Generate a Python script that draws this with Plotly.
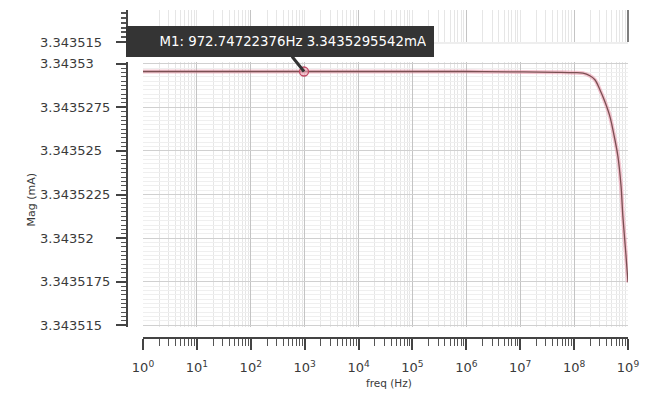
import plotly.graph_objects as go

# ---- data ----
freq = [1, 10, 100, 972.74722376, 1e4, 1e5, 1e6, 1e7, 5e7, 1e8, 1.46e8, 1.96e8,
        2.43e8, 3.01e8, 3.73e8, 4.62e8, 5.47e8, 6.5e8, 7.39e8, 8.04e8, 9.14e8, 1e9]
mag = [3.3435295542, 3.3435295542, 3.3435295542, 3.3435295542, 3.3435295542,
       3.3435295542, 3.3435295540, 3.3435295300, 3.3435295100, 3.3435294900,
       3.3435294600, 3.3435293100, 3.3435290800, 3.3435285100, 3.3435278200,
       3.3435269700, 3.3435259400, 3.3435246800, 3.3435230700, 3.3435212400,
       3.3435190700, 3.3435174600]
marker_f = [972.74722376]
marker_v = [3.3435295542]
marker_text = "M1: 972.74722376Hz 3.3435295542mA"

xtick_vals = [1, 10, 100, 1e3, 1e4, 1e5, 1e6, 1e7, 1e8, 1e9]
xtick_text = ["10<sup>%d</sup>" % i for i in range(10)]
ytick_vals = [3.34353, 3.3435275, 3.343525, 3.3435225, 3.34352, 3.3435175, 3.343515]
ytick_text = ["3.34353", "3.3435275", "3.343525", "3.3435225", "3.34352",
              "3.3435175", "3.343515"]
strip_label = ["3.343515"]
y_title = "Mag (mA)"
x_title = "freq (Hz)"

W, H = 653, 398
def px_x(p):
    return p / W
def px_y(p):
    return 1 - p / H

FONT = "DejaVu Sans"
TXT = "#3a3a3a"

fig = go.Figure()
# halo + line
fig.add_trace(go.Scatter(x=freq, y=mag, mode="lines", line_shape="spline",
                         line=dict(color="rgba(235,150,170,0.55)", width=4),
                         hoverinfo="skip", showlegend=False))
fig.add_trace(go.Scatter(x=freq, y=mag, mode="lines", line_shape="spline",
                         line=dict(color="#7a4f52", width=1.3),
                         showlegend=False))
fig.add_trace(go.Scatter(x=marker_f, y=marker_v, mode="markers",
                         marker=dict(symbol="circle", size=9,
                                     color="rgba(240,170,185,0.6)",
                                     line=dict(color="#c04a64", width=1.3)),
                         showlegend=False))

x_dom = [px_x(143), px_x(628)]
y_dom = [px_y(327), px_y(62)]

fig.update_layout(
    width=W, height=H,
    margin=dict(l=0, r=0, t=0, b=0, autoexpand=False),
    paper_bgcolor="white", plot_bgcolor="white",
    font=dict(family=FONT, color=TXT),
    xaxis=dict(type="log", domain=x_dom, range=[0, 9], automargin=False,
               anchor="free", position=px_y(338),
               tickvals=xtick_vals, ticktext=xtick_text,
               tickfont=dict(size=13, color=TXT), ticklabelstandoff=7,
               showline=True, linecolor="#444", linewidth=1.5,
               ticks="outside", ticklen=11, tickwidth=1.5, tickcolor="#444",
               showgrid=True, gridcolor="#c4c4c4", gridwidth=1,
               minor=dict(dtick="D1", ticks="outside", ticklen=7, tickwidth=1,
                          tickcolor="#555", showgrid=True, gridcolor="#e6e6e6"),
               zeroline=False),
    yaxis=dict(domain=y_dom, range=[3.3435149, 3.3435301], automargin=False,
               anchor="free", position=px_x(127),
               tickvals=ytick_vals, showticklabels=False,
               showline=True, linecolor="#444", linewidth=1.5,
               ticks="outside", ticklen=10, tickwidth=1.5, tickcolor="#444",
               showgrid=True, gridcolor="#d0d0d0", gridwidth=1,
               minor=dict(dtick=2.5e-7, tick0=3.343515, ticks="outside", ticklen=5,
                          tickwidth=1, tickcolor="#555", showgrid=True,
                          gridcolor="#efefef"),
               zeroline=False),
    # top strip
    xaxis2=dict(type="log", domain=x_dom, range=[0, 9], anchor="y2", automargin=False,
                matches="x", showticklabels=False, ticks="",
                showgrid=True, gridcolor="#c4c4c4",
                minor=dict(dtick="D1", showgrid=True, gridcolor="#e6e6e6"),
                showline=False, zeroline=False),
    yaxis2=dict(domain=[px_y(42), px_y(10)], range=[0, 1], automargin=False,
                anchor="free", position=px_x(127),
                tickvals=[0], showticklabels=False,
                showline=True, linecolor="#444", linewidth=1.5,
                ticks="outside", ticklen=10, tickwidth=1.5, tickcolor="#444",
                minor=dict(dtick=0.15, ticks="outside", ticklen=5, tickcolor="#555"),
                showgrid=False, zeroline=False),
)
# empty trace to bind strip axes
fig.add_trace(go.Scatter(x=[], y=[], xaxis="x2", yaxis="y2", showlegend=False))

# left-aligned y tick labels (as in the reference)
for v, t in zip(ytick_vals, ytick_text):
    fig.add_annotation(text=t, xref="paper", yref="y", x=px_x(38), y=v,
                       xanchor="left", yanchor="middle", showarrow=False,
                       font=dict(size=13, color=TXT, family=FONT))
for t in strip_label:
    fig.add_annotation(text=t, xref="paper", yref="y2", x=px_x(38), y=0,
                       xanchor="left", yanchor="middle", showarrow=False,
                       font=dict(size=13, color=TXT, family=FONT))

# strip right border & bottom line
fig.add_shape(type="line", xref="paper", yref="paper",
              x0=px_x(628), x1=px_x(628), y0=px_y(42), y1=px_y(10),
              line=dict(color="#555", width=1.5))
fig.add_shape(type="line", xref="paper", yref="paper",
              x0=px_x(143), x1=px_x(628), y0=px_y(43), y1=px_y(43),
              line=dict(color="#dddddd", width=1))

# axis titles
fig.add_annotation(text=y_title, xref="paper", yref="paper",
                   x=px_x(23), y=px_y(200), showarrow=False, textangle=-90,
                   font=dict(size=11, color=TXT, family=FONT))
fig.add_annotation(text=x_title, xref="paper", yref="paper",
                   x=px_x(389), y=px_y(390), showarrow=False, borderpad=0,
                   font=dict(size=10.5, color=TXT, family=FONT))

# marker label
fig.add_annotation(x=2.988, y=marker_v[0], xref="x", yref="y",
                   text=marker_text, showarrow=True, arrowhead=0,
                   arrowwidth=3, arrowcolor="#333", ax=-24, ay=-30,
                   font=dict(size=13.3, color="white", family=FONT),
                   bgcolor="#343434", bordercolor="#343434", borderpad=7,
                   width=292, align="right")

fig.write_html("out.html", config={"displayModeBar": False},
               post_script="document.body.style.margin='0';document.body.style.padding='0';")
